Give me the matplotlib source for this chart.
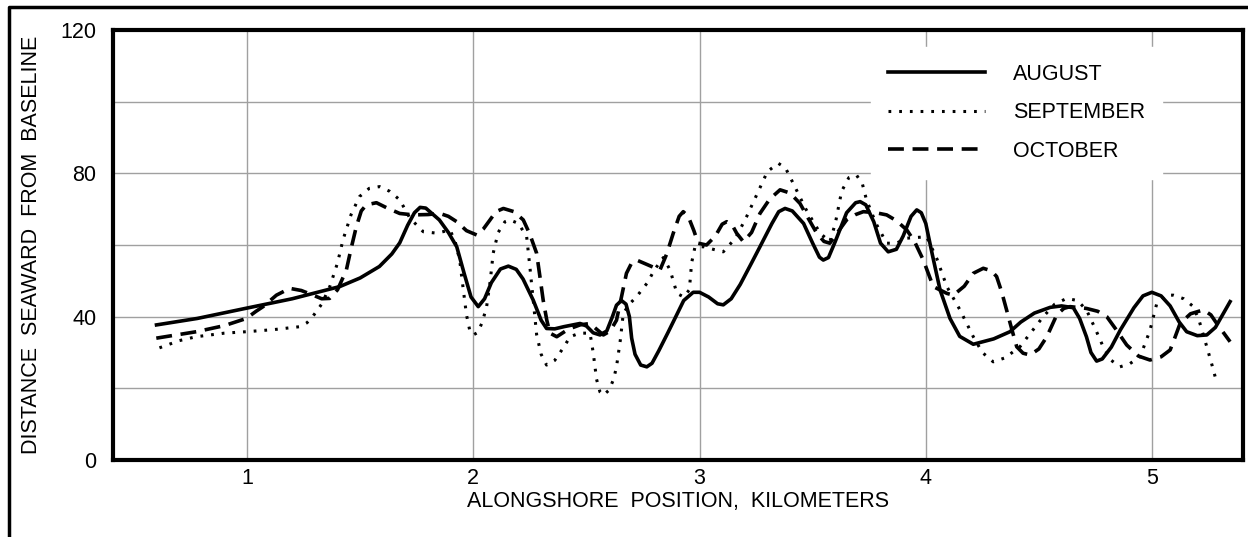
import numpy as np
import matplotlib.pyplot as plt
from matplotlib.lines import Line2D

# alongshore position (km) and distance seaward from baseline
aug_x = [0.60, 0.78, 1.00, 1.20, 1.41, 1.50, 1.585, 1.64, 1.675, 1.71, 1.74, 1.765, 1.79,
         1.85, 1.89, 1.927, 1.96, 1.99, 2.022, 2.05, 2.08, 2.12, 2.155, 2.19, 2.22, 2.265,
         2.30, 2.324, 2.36, 2.40, 2.472, 2.50, 2.53, 2.56, 2.59, 2.615, 2.633, 2.655, 2.675,
         2.69, 2.70, 2.715, 2.74, 2.767, 2.79, 2.82, 2.86, 2.899, 2.93, 2.972, 3.00, 3.04,
         3.08, 3.105, 3.14, 3.18, 3.23, 3.267, 3.32, 3.35, 3.378, 3.41, 3.46, 3.50, 3.53,
         3.547, 3.57, 3.60, 3.65, 3.69, 3.71, 3.735, 3.77, 3.80, 3.834, 3.87, 3.90, 3.935,
         3.96, 3.98, 4.00, 4.03, 4.063, 4.107, 4.15, 4.21, 4.30, 4.372, 4.42, 4.48, 4.55,
         4.60, 4.652, 4.68, 4.71, 4.73, 4.755, 4.78, 4.82, 4.86, 4.92, 4.96, 4.999, 5.04,
         5.08, 5.12, 5.153, 5.20, 5.242, 5.28, 5.345]
aug_y = [37.7, 39.5, 42.4, 45.0, 48.4, 50.8, 54.0, 57.5, 60.6, 65.5, 69.0, 70.5, 70.3,
         67.0, 63.5, 59.5, 52.0, 45.5, 42.8, 45.0, 49.5, 53.3, 54.1, 53.2, 50.5, 44.6,
         39.0, 36.7, 36.6, 37.2, 38.1, 37.4, 35.5, 34.9, 36.0, 40.0, 43.2, 44.5, 43.5,
         40.0, 34.0, 29.5, 26.5, 26.0, 27.0, 30.5, 35.5, 40.5, 44.5, 46.8, 46.8, 45.5,
         43.6, 43.3, 45.0, 49.0, 55.0, 59.5, 66.0, 69.3, 70.2, 69.5, 66.0, 60.5, 56.6,
         55.8, 56.5, 61.0, 69.0, 71.8, 72.1, 71.2, 66.5, 60.5, 58.1, 58.8, 62.5, 68.0,
         69.8, 69.0, 66.0, 57.0, 47.5, 39.5, 34.5, 32.3, 33.8, 35.8, 38.5, 41.0, 42.6,
         43.0, 42.5, 39.5, 34.4, 30.0, 27.6, 28.2, 31.5, 36.3, 42.5, 45.8, 46.8, 45.8,
         43.0, 38.5, 35.8, 34.7, 34.9, 37.0, 44.2]

sep_x = [0.613, 0.70, 0.775, 0.90, 0.997, 1.12, 1.233, 1.265, 1.29, 1.33, 1.366, 1.40,
         1.424, 1.46, 1.497, 1.54, 1.586, 1.63, 1.675, 1.72, 1.779, 1.84, 1.897, 1.92,
         1.94, 1.955, 1.97, 1.985, 2.00, 2.02, 2.04, 2.059, 2.075, 2.088, 2.11, 2.14,
         2.162, 2.20, 2.236, 2.25, 2.265, 2.28, 2.30, 2.324, 2.36, 2.40, 2.428, 2.47,
         2.516, 2.53, 2.545, 2.56, 2.575, 2.60, 2.62, 2.633, 2.65, 2.663, 2.69, 2.722,
         2.77, 2.80, 2.84, 2.87, 2.90, 2.93, 2.955, 2.965, 2.98, 3.02, 3.06, 3.105,
         3.16, 3.208, 3.26, 3.30, 3.348, 3.38, 3.414, 3.47, 3.533, 3.576, 3.60, 3.628,
         3.66, 3.694, 3.72, 3.738, 3.78, 3.827, 3.87, 3.916, 4.004, 4.05, 4.093, 4.151,
         4.21, 4.25, 4.298, 4.35, 4.416, 4.47, 4.519, 4.57, 4.623, 4.67, 4.71, 4.75,
         4.784, 4.82, 4.858, 4.90, 4.947, 4.99, 5.021, 5.06, 5.094, 5.14, 5.183, 5.21,
         5.242, 5.265, 5.283]
sep_y = [31.3, 33.3, 34.4, 35.4, 35.8, 36.4, 37.2, 38.3, 40.0, 43.5, 48.4, 55.0,
         61.4, 68.5, 73.5, 75.8, 76.3, 75.0, 72.6, 67.5, 63.7, 63.3, 64.2, 61.0,
         55.8, 48.0, 40.5, 36.0, 34.9, 35.6, 38.5, 42.8, 50.0, 57.7, 63.5, 66.5,
         67.0, 66.0, 62.3, 54.0, 44.6, 35.0, 29.5, 26.5, 27.8, 31.5, 34.4, 35.4,
         35.4, 30.0, 22.5, 19.0, 18.1, 19.5, 22.5, 26.0, 33.5, 40.9, 43.5, 45.6,
         49.5, 53.0, 56.5, 53.0, 46.5, 45.5, 47.5, 55.0, 59.5, 59.5, 58.8, 58.1,
         62.0, 67.9, 75.0, 80.5, 82.8, 81.5, 77.2, 70.0, 63.3, 60.9, 66.0, 75.0,
         78.8, 79.5, 77.0, 72.6, 66.0, 60.5, 60.5, 61.9, 62.3, 56.0, 48.4, 41.9,
         34.4, 30.0, 27.4, 28.5, 31.6, 36.0, 40.0, 43.5, 45.1, 44.5, 41.9, 36.5,
         31.6, 27.8, 26.0, 26.8, 28.8, 36.0, 43.7, 46.0, 46.0, 45.0, 42.8, 38.5,
         31.6, 26.5, 22.3]

oct_x = [0.599, 0.776, 0.90, 0.997, 1.04, 1.071, 1.13, 1.189, 1.24, 1.292, 1.33, 1.365,
         1.40, 1.439, 1.46, 1.483, 1.505, 1.527, 1.572, 1.62, 1.675, 1.735, 1.80, 1.853,
         1.89, 1.927, 1.97, 2.015, 2.045, 2.074, 2.10, 2.133, 2.18, 2.221, 2.25, 2.28,
         2.295, 2.309, 2.325, 2.339, 2.369, 2.42, 2.472, 2.516, 2.545, 2.575, 2.605, 2.633,
         2.655, 2.677, 2.70, 2.722, 2.77, 2.825, 2.855, 2.884, 2.91, 2.928, 2.95, 2.975,
         2.994, 3.031, 3.07, 3.10, 3.12, 3.145, 3.164, 3.194, 3.23, 3.267, 3.31, 3.356,
         3.40, 3.444, 3.48, 3.518, 3.55, 3.576, 3.61, 3.65, 3.69, 3.724, 3.78, 3.827,
         3.87, 3.916, 3.95, 3.989, 4.033, 4.093, 4.122, 4.17, 4.21, 4.254, 4.29, 4.313,
         4.335, 4.357, 4.38, 4.402, 4.43, 4.461, 4.50, 4.535, 4.579, 4.61, 4.638, 4.71,
         4.76, 4.80, 4.84, 4.888, 4.94, 4.991, 5.04, 5.08, 5.10, 5.124, 5.17, 5.227,
         5.26, 5.286, 5.345]
oct_y = [34.0, 35.8, 37.5, 39.5, 41.5, 42.8, 46.0, 47.9, 47.3, 46.0, 45.0, 45.1,
         47.5, 53.0, 59.0, 65.1, 69.5, 71.2, 71.8, 70.3, 68.8, 68.4, 68.5, 68.8,
         68.0, 66.5, 64.0, 62.8, 64.5, 67.0, 69.3, 70.2, 69.3, 67.0, 63.0, 57.7,
         51.0, 44.6, 39.0, 35.4, 34.4, 36.5, 37.7, 38.1, 36.5, 34.9, 36.0, 39.0,
         45.5, 52.1, 55.0, 55.8, 54.5, 53.0, 57.5, 63.3, 68.0, 69.3, 68.0, 64.0,
         60.5, 60.0, 62.5, 65.8, 66.5, 65.5, 63.3, 60.9, 63.5, 68.8, 72.8, 75.4,
         74.5, 71.6, 67.5, 63.3, 61.0, 60.5, 63.5, 67.0, 68.5, 69.3, 69.0, 68.4,
         66.8, 64.2, 61.0, 55.8, 48.4, 46.5, 46.0, 48.5, 52.1, 53.5, 52.8, 51.2,
         47.0, 41.9, 36.5, 31.6, 29.8, 29.3, 31.0, 34.4, 40.5, 42.3, 42.8, 42.3,
         41.5, 40.0, 36.5, 32.1, 29.0, 27.9, 28.8, 30.7, 34.0, 38.1, 40.8, 41.9,
         40.5, 38.1, 33.0]

x_ticks = [1, 2, 3, 4, 5]
y_ticks = [0, 40, 80, 120]

plt.rcParams['font.family'] = ['Liberation Sans', 'DejaVu Sans']
fs = 15.5

fig = plt.figure(figsize=(12.48, 5.37), dpi=100)
ax = fig.add_axes([113 / 1248, 77 / 537, 1130 / 1248, 430 / 537])

ax.plot(aug_x, aug_y, color='black', lw=2.6, ls='-', solid_joinstyle='round', label='AUGUST')
ax.plot(sep_x, sep_y, color='black', lw=2.2, ls=(0, (0.9, 2.6)), dash_capstyle='butt', label='SEPTEMBER')
ax.plot(oct_x, oct_y, color='black', lw=2.6, ls=(0, (4.4, 2.4)), label='OCTOBER')

ax.set_xlim(0.4077, 5.402)
ax.set_ylim(0, 120)
ax.set_xticks(x_ticks)
ax.set_yticks(y_ticks)
ax.set_yticks(np.arange(20, 120, 40), minor=True)
ax.grid(True, which='both', color='#a0a0a0', lw=1.0)
ax.set_axisbelow(True)
ax.tick_params(which='both', length=0, labelsize=fs)
ax.tick_params(axis='y', pad=12)
ax.tick_params(axis='x', pad=6)
for s in ax.spines.values():
    s.set_linewidth(3.0)

ax.set_xlabel('ALONGSHORE  POSITION,  KILOMETERS', fontsize=fs, labelpad=1)
ax.set_ylabel('DISTANCE  SEAWARD  FROM  BASELINE', fontsize=fs)
ax.yaxis.set_label_coords(-0.0625, 0.5)

leg = ax.legend(loc='upper left', bbox_to_anchor=(0.661, 0.986), fontsize=fs,
                handlelength=4.5, handletextpad=1.3, labelspacing=0.81,
                frameon=True, borderpad=0.8, fancybox=False)
leg.get_frame().set_edgecolor('white')
leg.get_frame().set_facecolor('white')
leg.get_frame().set_alpha(1.0)

# frame round the figure (top and left edges)
fig.add_artist(Line2D([9 / 1248, 9 / 1248, 1.0], [0.0, 1 - 7 / 537, 1 - 7 / 537],
                      transform=fig.transFigure, color='black', lw=2.5))

fig.savefig('out.png', dpi=100)
